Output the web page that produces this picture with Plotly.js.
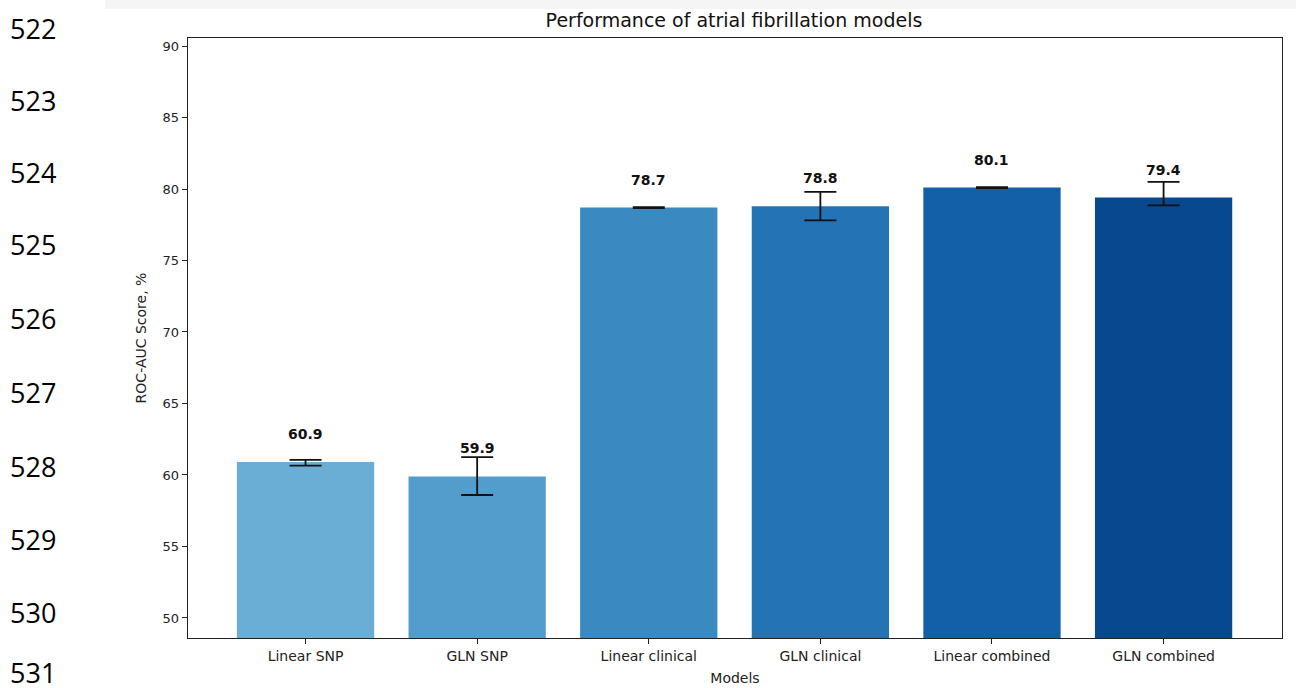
<!DOCTYPE html>
<html>
<head>
<meta charset="utf-8">
<script src="https://cdn.plot.ly/plotly-3.0.1.min.js"></script>
<style>
  html, body { margin: 0; padding: 0; background: #ffffff; }
  #chart { width: 1296px; height: 688px; }
</style>
</head>
<body>
<div id="chart"></div>
<script>
// Model names and mean ROC-AUC scores (%)
const models = ["Linear SNP", "GLN SNP", "Linear clinical", "GLN clinical", "Linear combined", "GLN combined"];
const scores = [60.9, 59.9, 78.7, 78.8, 80.1, 79.4];
// Upper / lower spread around each score
const errUp = [0.15, 1.35, 0.03, 1.0, 0.03, 1.1];
const errDown = [0.25, 1.3, 0.03, 1.0, 0.03, 0.55];
const barColors = ["#6aaed6", "#539dcc", "#3a89c1", "#2473b5", "#1460a8", "#08488e"];
// Manuscript line numbers in the left margin (pixel rows of their centres)
const lineNumbers = ["522", "523", "524", "525", "526", "527", "528", "529", "530", "531"];
const lineNumberY = [28, 100, 172, 245, 318, 392, 466, 539, 612, 672];

const bars = {
  type: "bar",
  x: models,
  y: scores,
  width: 0.8,
  marker: { color: barColors, line: { width: 0 } },
  error_y: {
    type: "data",
    symmetric: false,
    array: errUp,
    arrayminus: errDown,
    color: "#111111",
    thickness: 1.8,
    width: 16
  },
  hoverinfo: "x+y"
};

const valueLabels = models.map((m, i) => ({
  x: m,
  y: scores[i],
  xref: "x",
  yref: "y",
  text: "<b>" + scores[i].toFixed(1) + "</b>",
  showarrow: false,
  yanchor: "bottom",
  yshift: 18,
  font: { family: "DejaVu Sans", size: 14, color: "#111111" }
}));

const lineLabels = lineNumbers.map((t, i) => ({
  x: 9,
  y: lineNumberY[i],
  xref: "paper",
  yref: "paper",
  text: t,
  showarrow: false,
  xanchor: "left",
  yanchor: "middle",
  borderpad: 0,
  font: { family: "Open Sans", size: 27, color: "#000000" }
}));

// Convert line-number pixel rows into paper coordinates once the margins are fixed
const H = 688, W = 1296;
const mL = 188, mR = 14, mT = 38, mB = 50;
const plotH = H - mT - mB;
const plotW = W - mL - mR;
lineLabels.forEach(a => {
  a.y = (H - mB - a.y) / plotH;
  a.x = (a.x - mL) / plotW;
});

const layout = {
  width: W,
  height: H,
  margin: { l: mL, r: mR, t: mT, b: mB },
  paper_bgcolor: "#ffffff",
  plot_bgcolor: "#ffffff",
  showlegend: false,
  bargap: 0.2,
  title: {
    text: "Performance of atrial fibrillation models",
    x: 734 / W,
    xanchor: "center",
    y: 1 - 20 / H,
    yanchor: "middle",
    font: { family: "DejaVu Sans", size: 19, color: "#111111" }
  },
  font: { family: "DejaVu Sans", color: "#222222" },
  xaxis: {
    range: [-0.685, 5.69],
    showgrid: false,
    zeroline: false,
    showline: true,
    linecolor: "#222222",
    linewidth: 1.3,
    mirror: true,
    ticks: "outside",
    ticklen: 5,
    tickcolor: "#222222",
    tickfont: { family: "DejaVu Sans", size: 14, color: "#222222" },
    title: { text: "Models", standoff: 10, font: { family: "DejaVu Sans", size: 14, color: "#222222" } }
  },
  yaxis: {
    range: [48.6, 90.56],
    tickmode: "array",
    tickvals: [50, 55, 60, 65, 70, 75, 80, 85, 90],
    showgrid: false,
    zeroline: false,
    showline: true,
    linecolor: "#222222",
    linewidth: 1.3,
    mirror: true,
    ticks: "outside",
    ticklen: 5,
    tickcolor: "#222222",
    tickfont: { family: "DejaVu Sans", size: 13, color: "#222222" },
    title: { text: "ROC-AUC Score, %", standoff: 12, font: { family: "DejaVu Sans", size: 14, color: "#222222" } }
  },
  shapes: [
    {
      type: "rect",
      xref: "paper",
      yref: "paper",
      x0: (105 - mL) / plotW,
      x1: 1.02,
      y0: (H - mB - 9) / plotH,
      y1: (H - mB) / plotH,
      fillcolor: "#f5f5f5",
      line: { width: 0 },
      layer: "below"
    }
  ],
  annotations: valueLabels.concat(lineLabels)
};

Plotly.newPlot("chart", [bars], layout, { displayModeBar: false, staticPlot: true });
</script>
</body>
</html>
